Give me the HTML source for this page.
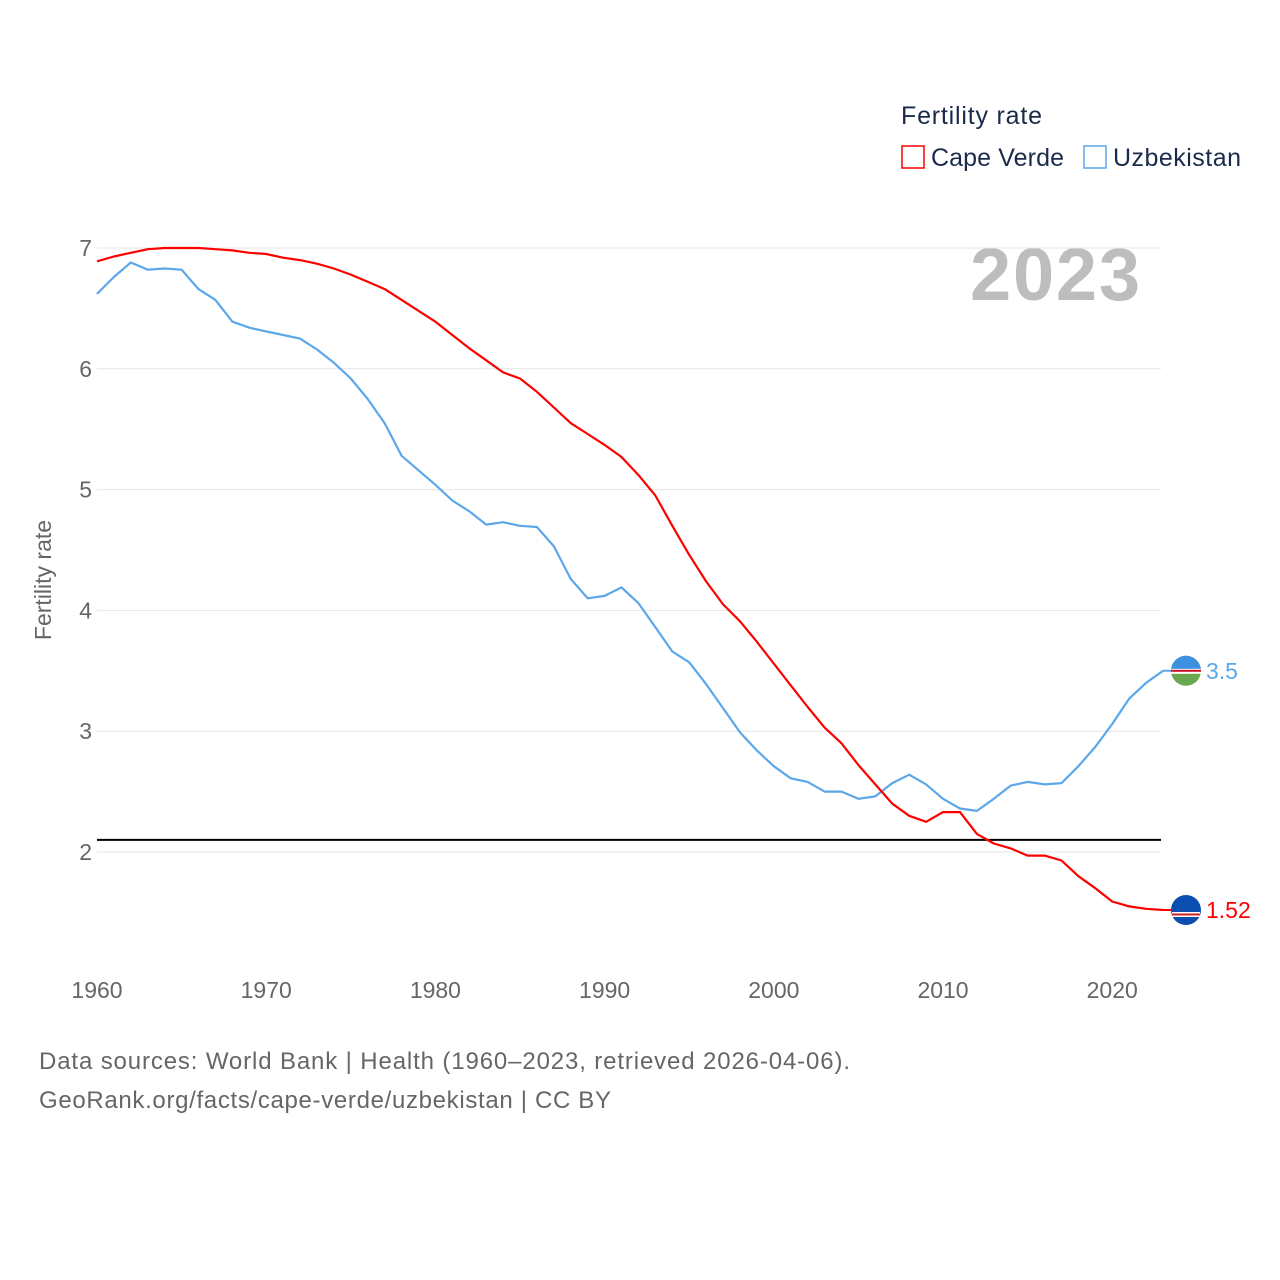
<!DOCTYPE html>
<html><head><meta charset="utf-8">
<style>
body{margin:0;background:#fff;font-family:"Liberation Sans",sans-serif;}
svg{display:block}
</style></head>
<body>
<svg id="chart" width="1280" height="1280" xmlns="http://www.w3.org/2000/svg" font-family="Liberation Sans, sans-serif">
  <g>
    <text x="901" y="124" font-size="25" fill="#1a2b4a" textLength="141">Fertility rate</text>
    <g>
      <rect x="902" y="146" width="22" height="22" fill="none" stroke="#f00" stroke-width="1.5"/>
      <text x="931" y="166" font-size="25" fill="#1a2b4a" textLength="133">Cape Verde</text>
    </g>
    <g>
      <rect x="1084" y="146" width="22" height="22" fill="none" stroke="#5ba7ea" stroke-width="1.5"/>
      <text x="1113" y="166" font-size="25" fill="#1a2b4a" textLength="128">Uzbekistan</text>
    </g>
  </g>
  <text x="1140" y="300" font-size="74" font-weight="bold" fill="#bdbdbd" text-anchor="end" textLength="170">2023</text>
  <text transform="translate(51,580) rotate(-90)" font-size="23" fill="#666" text-anchor="middle">Fertility rate</text>
  <g id="grid"></g>
  <g id="yticks"></g>
  <g id="xticks"></g>
  <g id="series"></g>
  <g id="ends"></g>
  <text x="39" y="1069" font-size="24" fill="#666" textLength="811">Data sources: World Bank | Health (1960–2023, retrieved 2026-04-06).</text>
  <text x="39" y="1108" font-size="24" fill="#666" textLength="572">GeoRank.org/facts/cape-verde/uzbekistan | CC BY</text>
</svg>
<script>
const startYear = 1960;
const yTicks = [2,3,4,5,6,7];
const xTicks = [1960,1970,1980,1990,2000,2010,2020];
const capeVerde = [6.89,6.93,6.96,6.99,7.0,7.0,7.0,6.99,6.98,6.96,6.95,6.92,6.90,6.87,6.83,6.78,6.72,6.66,6.57,6.48,6.39,6.28,6.17,6.07,5.97,5.92,5.81,5.68,5.55,5.46,5.37,5.27,5.12,4.95,4.70,4.46,4.24,4.05,3.91,3.74,3.56,3.38,3.20,3.03,2.90,2.72,2.56,2.40,2.30,2.25,2.33,2.33,2.15,2.07,2.03,1.97,1.97,1.93,1.80,1.70,1.59,1.55,1.53,1.52];
const uzbekistan = [6.62,6.76,6.88,6.82,6.83,6.82,6.66,6.57,6.39,6.34,6.31,6.28,6.25,6.16,6.05,5.92,5.75,5.55,5.28,5.16,5.04,4.91,4.82,4.71,4.73,4.70,4.69,4.53,4.26,4.10,4.12,4.19,4.06,3.86,3.66,3.57,3.39,3.19,2.99,2.84,2.71,2.61,2.58,2.50,2.50,2.44,2.46,2.57,2.64,2.56,2.44,2.36,2.34,2.44,2.55,2.58,2.56,2.57,2.71,2.87,3.06,3.27,3.40,3.50];
const replacementLevel = 2.1;
const endLabels = ["1.52","3.5"];

const NS="http://www.w3.org/2000/svg";
const X0=97,X1=1163,Y0=1960,Y1=2023;
const x=yr=>X0+(yr-Y0)*(X1-X0)/(Y1-Y0);
const y=v=>852-(v-2)*120.8;
function mk(tag,attrs,parent){const e=document.createElementNS(NS,tag);for(const k in attrs)e.setAttribute(k,attrs[k]);parent.appendChild(e);return e;}

const grid=document.getElementById('grid'),yt=document.getElementById('yticks'),xt=document.getElementById('xticks');
yTicks.forEach(v=>{
  const l=mk('line',{x1:97,x2:1161,y1:y(v),y2:y(v),stroke:'#e6e6e6','stroke-width':1},grid);
  
  
  const t=mk('text',{x:92,y:y(v)+8,'font-size':23,fill:'#666','text-anchor':'end'},yt);
  t.textContent=v;
  
  
});
xTicks.forEach(v=>{
  const t=mk('text',{x:x(v),y:998,'font-size':23,fill:'#666','text-anchor':'middle'},xt);
  t.textContent=v;
  
  
});
const ser=document.getElementById('series');
const ref=mk('line',{x1:97,x2:1161,y1:y(replacementLevel),y2:y(replacementLevel),stroke:'#000','stroke-width':2},ser);


function line(data,color,name){
  const d=data.map((v,i)=>(i?'L':'M')+x(startYear+i).toFixed(1)+','+y(v).toFixed(1)).join('');
  const p=mk('path',{d:d,fill:'none',stroke:color,'stroke-width':2.2,'stroke-linejoin':'round'},ser);
  
  
}
line(uzbekistan,'#5ba7ea','line-uzbekistan');
line(capeVerde,'#f00','line-cape-verde');

const ends=document.getElementById('ends');
function endMark(data,color,label,name,flag){
  const v=data[data.length-1],yy=y(v),xe=x(startYear+data.length-1);
  mk('line',{x1:xe,x2:1186,y1:yy,y2:yy,stroke:color,'stroke-width':2},ends);
  const g=mk('g',{},ends);
  
  
  if(flag==='uz'){
    mk('circle',{cx:1186,cy:yy,r:15,fill:'#6aa84f'},g);
    mk('path',{d:`M1171,${yy} A15,15 0 0 1 1201,${yy} Z`,fill:'#3d8fe0'},g);
    mk('rect',{x:1171,y:yy-2,width:30,height:5,fill:'#fff'},g);
    mk('rect',{x:1171,y:yy-1,width:30,height:2,fill:'#ce1126'},g);
  }else{
    mk('circle',{cx:1186,cy:yy,r:15,fill:'#0a4fb0'},g);
    mk('rect',{x:1172,y:yy+2,width:28,height:5,fill:'#fff'},g);
    mk('rect',{x:1172,y:yy+3.5,width:28,height:2,fill:'#cf2027'},g);
  }
  const t=mk('text',{x:1206,y:yy+8,'font-size':23,fill:color},ends);
  t.textContent=label;
  
  
}
endMark(uzbekistan,'#5ba7ea',endLabels[1],'uzbekistan','uz');
endMark(capeVerde,'#f00',endLabels[0],'cape-verde','cv');
</script>
</body></html>
